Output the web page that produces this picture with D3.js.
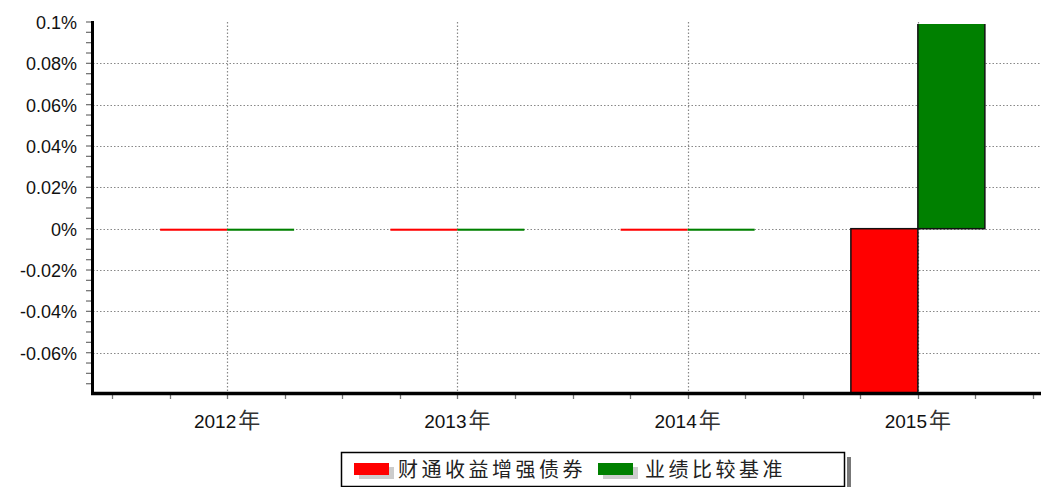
<!DOCTYPE html>
<html>
<head>
<meta charset="utf-8">
<script src="https://cdn.jsdelivr.net/npm/d3@7"></script>
<style>
  body { margin: 0; background: #fff; }
  svg { display: block; font-family: "Liberation Sans", Arial, "Noto Sans CJK SC", sans-serif; }
</style>
</head>
<body>
<svg id="chart" width="1041" height="487"></svg>
<script>
// data (percent values)
const years = ['2012', '2013', '2014', '2015']
const fundValues = [-0.001, -0.001, -0.001, -0.09]
const benchValues = [-0.001, -0.001, -0.001, 0.12]
const seriesNames = ['财通收益增强债券', '业绩比较基准']
const seriesColors = ['#ff0000', '#008000']
const yTicks = [-0.06, -0.04, -0.02, 0, 0.02, 0.04, 0.06, 0.08, 0.1]

const svg = d3.select('#chart')
const plotLeft = 93
const plotTop = 22
const plotBottom = 393

const y = d3.scaleLinear().domain([-0.0795, 0.1]).range([plotBottom, plotTop])
const x = d3.scaleBand().domain(years).range([112, 1033]).padding(0)
const xSub = d3.scaleBand().domain(seriesNames).range([x.bandwidth() / 2 - 67, x.bandwidth() / 2 + 67])

svg.append('defs').append('clipPath').attr('id', 'plot-clip')
  .append('rect').attr('x', plotLeft).attr('y', plotTop + 2).attr('width', 1041 - plotLeft).attr('height', plotBottom - plotTop - 2)

// horizontal grid
svg.append('g').selectAll('line')
  .data(yTicks.filter(t => t < 0.1))
  .enter().append('line')
  .attr('x1', plotLeft).attr('x2', 1041)
  .attr('y1', d => Math.round(y(d)) + 0.5).attr('y2', d => Math.round(y(d)) + 0.5)
  .attr('stroke', '#888').attr('stroke-width', 1.2).attr('stroke-dasharray', '1.5,2')

// vertical grid at category centers
svg.append('g').selectAll('line')
  .data(years)
  .enter().append('line')
  .attr('x1', d => Math.round(x(d) + x.bandwidth() / 2) + 0.5)
  .attr('x2', d => Math.round(x(d) + x.bandwidth() / 2) + 0.5)
  .attr('y1', plotTop).attr('y2', plotBottom)
  .attr('stroke', '#888').attr('stroke-width', 1.2).attr('stroke-dasharray', '1.5,2')

// bars
const rows = years.map((yr, i) => ({ year: yr, vals: [fundValues[i], benchValues[i]] }))
const groups = svg.append('g').attr('clip-path', 'url(#plot-clip)')
  .selectAll('g').data(rows).enter().append('g')
  .attr('transform', d => 'translate(' + x(d.year) + ',0)')

groups.selectAll('rect')
  .data(d => d.vals.map((v, j) => ({ name: seriesNames[j], v: v, color: seriesColors[j] })))
  .enter().append('rect')
  .attr('x', d => xSub(d.name))
  .attr('width', xSub.bandwidth())
  .attr('y', d => Math.min(y(d.v), y(0)))
  .attr('height', d => Math.abs(y(d.v) - y(0)))
  .attr('fill', d => d.color)
  .attr('stroke', d => Math.abs(y(d.v) - y(0)) > 4 ? '#111' : 'none')
  .attr('stroke-width', 1.5)

// y axis ticks (major + minor)
const minor = d3.range(-0.075, 0.1001, 0.005)
svg.append('g').selectAll('line').data(minor).enter().append('line')
  .attr('x1', plotLeft - 7).attr('x2', plotLeft)
  .attr('y1', d => y(d)).attr('y2', d => y(d))
  .attr('stroke', '#777').attr('stroke-width', 1.3)

svg.append('g').selectAll('text').data(yTicks).enter().append('text')
  .attr('x', 77).attr('y', d => y(d) + 7)
  .attr('text-anchor', 'end')
  .attr('font-size', 18)
  .attr('fill', '#111')
  .text(d => (Math.round(d * 100) / 100) + '%')

// x axis ticks
const xTickPos = d3.range(0, 17).map(k => 112 + k * x.bandwidth() / 4)
svg.append('g').selectAll('line').data(xTickPos).enter().append('line')
  .attr('x1', d => Math.round(d) + 0.5).attr('x2', d => Math.round(d) + 0.5)
  .attr('y1', plotBottom).attr('y2', plotBottom + 6)
  .attr('stroke', '#777').attr('stroke-width', 1.3)

const xl = svg.append('g').selectAll('text').data(years).enter().append('text')
  .attr('x', d => x(d) + x.bandwidth() / 2).attr('y', 428)
  .attr('text-anchor', 'middle')
  .attr('font-size', 19)
  .attr('fill', '#111')
xl.append('tspan').text(d => d)
xl.append('tspan').attr('dx', 2).attr('font-size', 22)
  .attr('font-family', '"Noto Sans CJK SC", sans-serif').attr('fill', '#333').text('年')

// axis lines
svg.append('line').attr('x1', plotLeft - 0.5).attr('x2', plotLeft - 0.5).attr('y1', plotTop - 1).attr('y2', plotBottom + 2)
  .attr('stroke', '#000').attr('stroke-width', 3)
svg.append('line').attr('x1', plotLeft - 2).attr('x2', 1041).attr('y1', plotBottom + 0.5).attr('y2', plotBottom + 0.5)
  .attr('stroke', '#000').attr('stroke-width', 3.5)

// legend
const lg = svg.append('g')
lg.append('rect').attr('x', 847).attr('y', 457).attr('width', 4).attr('height', 30).attr('fill', '#777')
lg.append('rect').attr('x', 341.5).attr('y', 452.5).attr('width', 503).attr('height', 34)
  .attr('fill', '#fff').attr('stroke', '#000').attr('stroke-width', 1.5)

const legendX = [354, 598]
seriesNames.forEach((name, i) => {
  lg.append('rect').attr('x', legendX[i] + 5).attr('y', 467).attr('width', 35).attr('height', 12).attr('fill', '#ccc')
  lg.append('rect').attr('x', legendX[i]).attr('y', 463).attr('width', 35).attr('height', 12).attr('fill', seriesColors[i])
  lg.append('text').attr('x', legendX[i] + 44 + i * 3).attr('y', 477)
    .attr('font-size', 20).attr('letter-spacing', 3.5).attr('fill', '#222')
    .attr('font-family', '"Noto Sans CJK SC", sans-serif')
    .text(name)
})
</script>
</body>
</html>
